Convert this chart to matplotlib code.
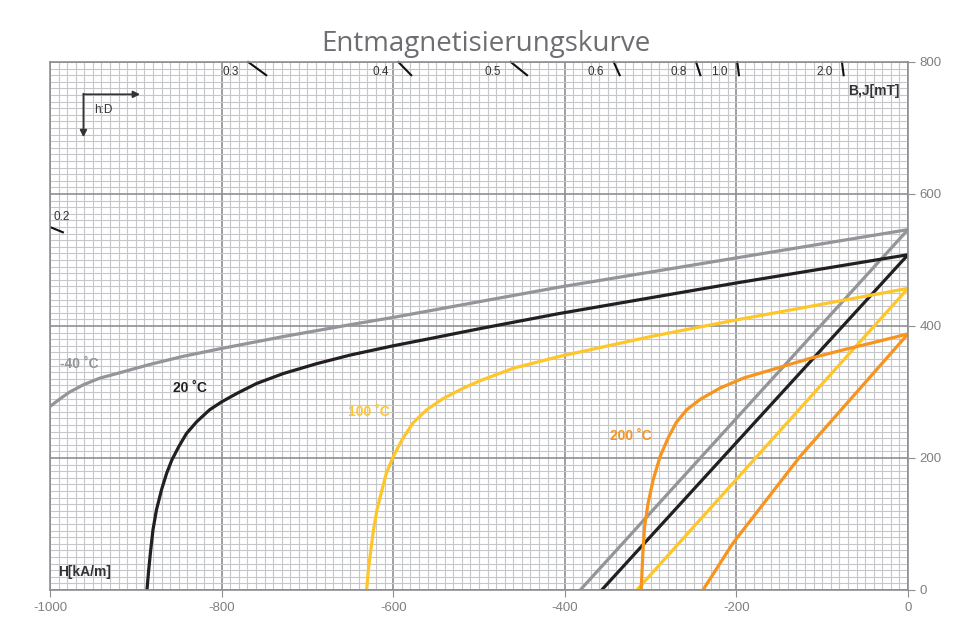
import matplotlib
matplotlib.use("Agg")
import matplotlib.pyplot as plt
from matplotlib.ticker import MultipleLocator

plt.rcParams["font.family"] = ["Liberation Sans", "DejaVu Sans"]
plt.rcParams["axes.unicode_minus"] = False

# J curves (intrinsic) per temperature, H in kA/m, J in mT
j_m40_h = [-1000, -988, -977, -961, -942, -922, -883, -845, -800, -728, -650, -600, -499, -406, -201, 0]
j_m40_v = [278, 290, 300, 311, 321, 328, 342, 354, 366, 384, 402, 413, 437, 459, 503, 546]
j_20_h = [-887, -885, -883, -880, -876, -870, -864, -858, -850, -841, -829, -814, -800, -782, -759,
          -728, -689, -650, -600, -553, -499, -406, -201, 0]
j_20_v = [0, 30, 56, 91, 121, 152, 177, 197, 217, 237, 255, 273, 285, 298, 313,
          328, 343, 356, 370, 382, 396, 419, 465, 508]
j_100_h = [-631, -629, -626, -623, -619, -613, -608, -600, -590, -577, -561, -542, -518, -499, -460, -406,
           -300, -201, 0]
j_100_v = [0, 30, 61, 91, 121, 152, 177, 202, 227, 253, 273, 290, 306, 317, 336, 354,
           384, 409, 457]
j_200_h = [-311, -309, -307, -303, -297, -289, -279, -270, -258, -242, -219, -192, -153, -114, -75, -37, 0]
j_200_v = [0, 56, 96, 131, 167, 202, 232, 254, 273, 289, 306, 321, 336, 351, 364, 376, 388]
# B lines: (H, B) points
b_m40_h = [-382, 0]; b_m40_v = [0, 546]
b_20_h = [-357, 0]; b_20_v = [0, 508]
b_100_h = [-316, 0]; b_100_v = [0, 457]
b_200_h = [-239, -204, -126, 0]; b_200_v = [0, 71, 202, 388]

colors = ["#939598", "#231f20", "#ffc62a", "#f7941d"]
labels = ["-40 ˚C", "20 ˚C", "100 ˚C", "200 ˚C"]
label_pos = [(-988, 342), (-857, 306), (-653, 269), (-347, 234)]

# permeance markers along the top / left edge
pc_text = ["0.3", "0.4", "0.5", "0.6", "0.8", "1.0", "2.0"]
pc_h0 = [-769, -594, -463, -343, -247, -199, -77]
pc_h1 = [-748, -579, -444, -336, -242, -197, -75]

fig = plt.figure(figsize=(9.58, 6.3), dpi=100)
ax = fig.add_axes([50/958, 1-590/630, 858/958, 528/630])
ax.set_xlim(-1000, 0); ax.set_ylim(0, 800)
ax.xaxis.set_major_locator(MultipleLocator(200)); ax.xaxis.set_minor_locator(MultipleLocator(10))
ax.yaxis.set_major_locator(MultipleLocator(200)); ax.yaxis.set_minor_locator(MultipleLocator(10))
ax.grid(which="minor", color="#c6c7ca", lw=0.8)
ax.grid(which="major", color="#8e8f93", lw=1.2)
ax.set_axisbelow(True)
ax.yaxis.tick_right()
ax.tick_params(which="minor", length=0)
ax.tick_params(which="major", length=5, color="#8e8f93", labelcolor="#808080", labelsize=9.5)
for s in ax.spines.values():
    s.set_color("#8e8f93"); s.set_linewidth(1.2)

j_curves = [(j_m40_h, j_m40_v), (j_20_h, j_20_v), (j_100_h, j_100_v), (j_200_h, j_200_v)]
b_lines = [(b_m40_h, b_m40_v), (b_20_h, b_20_v), (b_100_h, b_100_v), (b_200_h, b_200_v)]
for (jh, jv), (bh, bv), c, lab, (lx, ly) in zip(j_curves, b_lines, colors, labels, label_pos):
    ax.plot(jh, jv, color=c, lw=2.3, solid_joinstyle="round")
    ax.plot(bh, bv, color=c, lw=2.3, solid_joinstyle="round")
    ax.text(lx, ly, lab, color=c, fontsize=10, fontweight="bold", va="center")

for t, h0, h1 in zip(pc_text, pc_h0, pc_h1):
    ax.plot([h0, h1], [800, 780], color="#111111", lw=1.5, clip_on=False)
    ax.text(h0 - 11, 794, t, fontsize=8.5, color="#333333", ha="right", va="top")
ax.plot([-1000, -985], [550, 542], color="#111111", lw=1.5)
ax.text(-996, 556, "0.2", fontsize=8.5, color="#333333", ha="left", va="bottom")

ax.annotate("", xy=(-895, 751), xytext=(-961, 751),
            arrowprops=dict(arrowstyle="-|>", color="#333333", lw=1.3, mutation_scale=10, shrinkA=0, shrinkB=0))
ax.annotate("", xy=(-961, 686), xytext=(-961, 752),
            arrowprops=dict(arrowstyle="-|>", color="#333333", lw=1.3, mutation_scale=10, shrinkA=0, shrinkB=0))
ax.text(-948, 727, "h:D", fontsize=8.5, color="#333333", va="center")

ax.text(-10, 756, "B,J[mT]", fontsize=10, fontweight="bold", color="#333333", ha="right", va="center")
ax.text(-990, 27, "H[kA/m]", fontsize=10, fontweight="bold", color="#333333", ha="left", va="center")

fig.text(486/958, 1-44/630, "Entmagnetisierungskurve", fontsize=20, color="#6d6e71",
         family=["Open Sans", "DejaVu Sans"], ha="center", va="center")
fig.savefig("out.png", dpi=100)
